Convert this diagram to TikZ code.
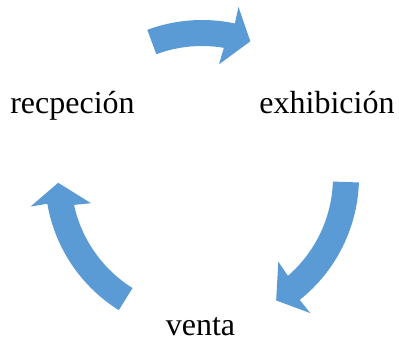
\documentclass[tikz,border=0pt]{standalone}
\usepackage{fontspec}
\setmainfont{Liberation Serif}
\usepackage{xcolor}
\usetikzlibrary{calc}
\definecolor{azul}{RGB}{91,155,213}

\begin{document}
\begin{tikzpicture}[
    x=0.75pt, y=0.75pt,
    etiq/.style={inner sep=0pt, anchor=base, font=\fontsize{24}{28}\selectfont},
    flecha/.style={fill=azul, draw=none}
]
\useasboundingbox (0,0) rectangle (399,341);
\coordinate (c) at (202,164);
\node[etiq] (recep) at (72.5,227) {recpeción};
\node[etiq] (exhib) at (327,227) {exhibición};
\node[etiq] (venta) at (200.5,5) {venta};
% three curved block arrows round the cycle
\begin{scope}[shift={(c)}]
\foreach \ini/\fin in {110.4/70.4, -2/-59, 238/182.3} {
  \fill[flecha] (\ini:157) arc[start angle=\ini, end angle=\fin+7.5, radius=157]
    -- ({\fin+7.5}:174) -- (\fin:144) -- ({\fin+11}:114) -- ({\fin+10}:131)
    arc[start angle=\fin+10, end angle=\ini, radius=131] -- cycle;
}
\end{scope}
\end{tikzpicture}
\end{document}
